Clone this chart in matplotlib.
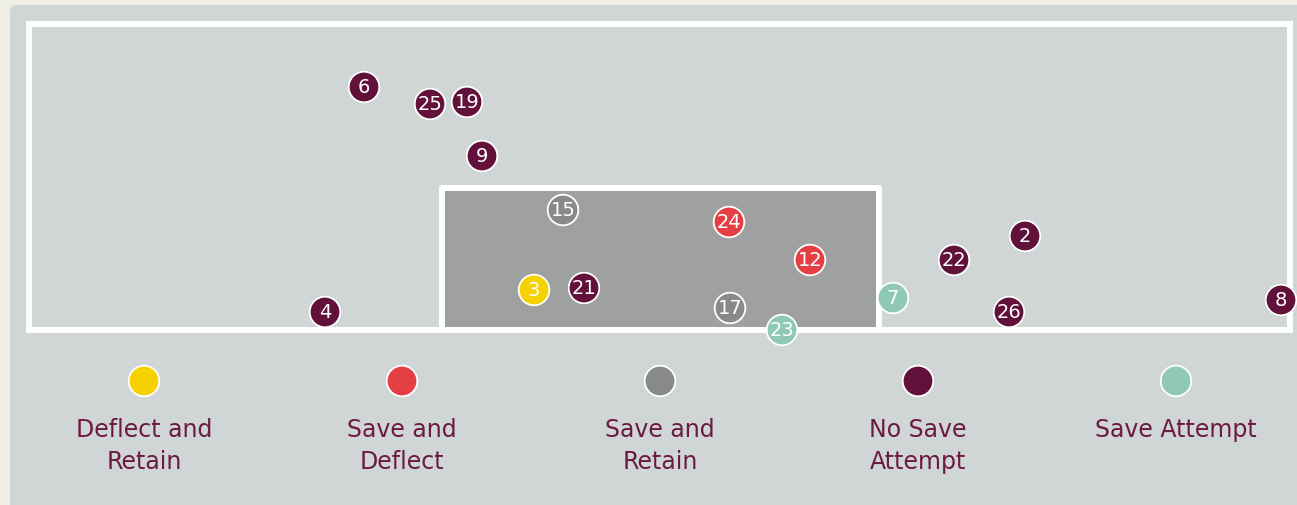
import numpy as np
import matplotlib.pyplot as plt
from matplotlib.patches import Rectangle, FancyBboxPatch, Circle

plt.rcParams['font.family'] = ['DejaVu Sans']

# shot locations on the goal frame (image pixel units, y grows downward)
shot_no = [6, 25, 19, 9, 15, 24, 12, 3, 21, 17, 23, 7, 4, 22, 2, 26, 8]
shot_x = [364, 430, 467, 482, 563, 729, 810, 534, 584, 730, 782, 893, 325, 954, 1025, 1009, 1281]
shot_y = [87, 104, 102, 156, 210, 222, 260, 290, 288, 308, 330, 298, 312, 260, 236, 312, 300]
outcome = ['No Save Attempt', 'No Save Attempt', 'No Save Attempt', 'No Save Attempt',
           'Save and Retain', 'Save and Deflect', 'Save and Deflect', 'Deflect and Retain',
           'No Save Attempt', 'Save and Retain', 'Save Attempt', 'Save Attempt',
           'No Save Attempt', 'No Save Attempt', 'No Save Attempt', 'No Save Attempt',
           'No Save Attempt']

categories = ['Deflect and Retain', 'Save and Deflect', 'Save and Retain', 'No Save Attempt', 'Save Attempt']
labels = ['Deflect and\nRetain', 'Save and\nDeflect', 'Save and\nRetain', 'No Save\nAttempt', 'Save Attempt']
colours = ['#F6D100', '#E33F45', '#878A88', '#62123A', '#8FC8B7']
cmap = dict(zip(categories, colours))

bg = '#EEEEE2'
panel = '#D0D5D5'
goal_fill = '#9EA19F'
text_col = '#6B1A40'

fig = plt.figure(figsize=(12.97, 5.05), dpi=100, facecolor=bg)
ax = fig.add_axes([0, 0, 1, 1])
ax.set_xlim(0, 1297)
ax.set_ylim(505, 0)
ax.axis('off')

ax.add_patch(FancyBboxPatch((10, 5), 1320, 530, boxstyle='round,pad=0,rounding_size=7',
                            fc=panel, ec='none'))
# frame around the target
ax.add_patch(Rectangle((29, 24), 1261, 305.5, fc='none', ec='white', lw=4.3,
                       joinstyle='miter'))
# goal mouth
ax.add_patch(Rectangle((442, 187.7), 437, 141.8, fc=goal_fill, ec='white', lw=4.3,
                       joinstyle='round'))

for n, x, y, o in zip(shot_no, shot_x, shot_y, outcome):
    ax.add_patch(Circle((x, y), 15.3, fc=cmap[o], ec='white', lw=1.3, zorder=3))
    ax.text(x, y + 0.5, str(n), color='white', fontsize=14, ha='center', va='center', zorder=4)

# legend
for i, (lab, c) in enumerate(zip(labels, colours)):
    lx = 144 + 258 * i
    ax.add_patch(Circle((lx, 381), 15.3, fc=c, ec='white', lw=1.3))
    ax.text(lx, 418, lab, color=text_col, fontsize=17, ha='center', va='top',
            linespacing=1.42)

fig.savefig('out.png', dpi=100, facecolor=bg)
